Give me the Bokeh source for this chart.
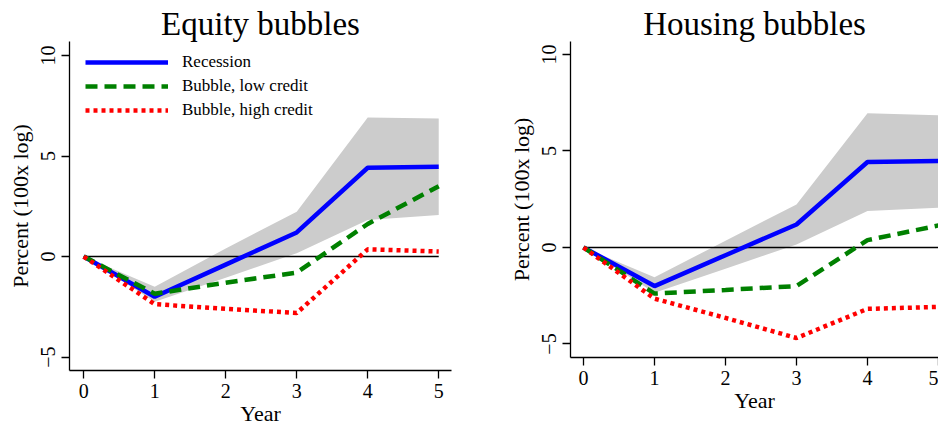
from bokeh.plotting import figure
from bokeh.models import Range1d, FixedTicker, Legend, LegendItem
from bokeh.layouts import row
from bokeh.embed import file_html
from bokeh.resources import INLINE

years = [0, 1, 2, 3, 4, 5]

# Equity bubbles
eq_recession = [0, -2.0, -0.4, 1.2, 4.42, 4.47]
eq_band_hi = [0, -1.5, 0.4, 2.23, 6.92, 6.87]
eq_band_lo = [0, -2.25, -1.05, 0.17, 1.82, 2.07]
eq_low_credit = [0, -1.85, -1.3, -0.8, 1.62, 3.5]
eq_high_credit = [0, -2.37, -2.6, -2.81, 0.36, 0.25]

# Housing bubbles
ho_recession = [0, -2.0, -0.4, 1.19, 4.43, 4.48]
ho_band_hi = [0, -1.54, 0.35, 2.23, 6.95, 6.85]
ho_band_lo = [0, -2.35, -1.1, 0.16, 1.89, 2.06]
ho_low_credit = [0, -2.39, -2.2, -2.0, 0.38, 1.14]
ho_high_credit = [0, -2.65, -3.65, -4.69, -3.18, -3.08]

y_ticks = [-5, 0, 5, 10]
x_ticks = [0, 1, 2, 3, 4, 5]

FONT = "Liberation Serif"


def make_panel(title, rec, hi, lo, low, high, xr, yr, fw, fh, mb, legend):
    p = figure(output_backend="svg", toolbar_location=None,
               frame_width=fw, frame_height=fh,
               min_border_left=mb[0], min_border_right=mb[1],
               min_border_top=mb[2], min_border_bottom=mb[3],
               x_range=Range1d(*xr), y_range=Range1d(*yr),
               title=title)
    p.title.text_font = FONT
    p.title.text_font_size = "33px"
    p.title.text_font_style = "normal"
    p.title.text_color = "black"
    p.title.align = "center"
    p.title.standoff = 0
    p.outline_line_color = None
    p.grid.visible = False
    p.background_fill_color = "white"
    p.border_fill_color = "white"

    p.varea(x=years, y1=lo, y2=hi, fill_color="#cccccc", fill_alpha=1.0)
    p.line(x=[0, 5], y=[0, 0], line_color="black", line_width=1.5)
    r1 = p.line(x=years, y=rec, line_color="#0000ff", line_width=4.5)
    r2 = p.line(x=years, y=low, line_color="#008000", line_width=4.5,
                line_dash="12 7")
    r3 = p.line(x=years, y=high, line_color="#ff0000", line_width=4.5,
                line_dash="4 4")

    for ax in (p.xaxis[0], p.yaxis[0]):
        ax.axis_line_color = "black"
        ax.axis_line_width = 1.3
        ax.major_tick_line_color = "black"
        ax.major_tick_line_width = 1.3
        ax.major_tick_out = 8
        ax.major_tick_in = 0
        ax.minor_tick_line_color = None
        ax.major_label_text_font = FONT
        ax.major_label_text_font_size = "20px"
        ax.major_label_text_color = "black"
        ax.axis_label_text_font = FONT
        ax.axis_label_text_font_size = "22px"
        ax.axis_label_text_font_style = "normal"
        ax.axis_label_text_color = "black"
    p.xaxis.ticker = FixedTicker(ticks=x_ticks)
    p.yaxis.ticker = FixedTicker(ticks=y_ticks)
    p.yaxis.major_label_orientation = "vertical"
    p.xaxis.axis_label = "Year"
    p.yaxis.axis_label = "Percent (100x log)"
    p.xaxis.major_label_standoff = 5
    p.yaxis.major_label_standoff = 6
    p.xaxis.axis_label_standoff = 0
    p.yaxis.axis_label_standoff = 6

    if legend:
        lg = Legend(items=[
            LegendItem(label="Recession", renderers=[r1]),
            LegendItem(label="Bubble, low credit", renderers=[r2]),
            LegendItem(label="Bubble, high credit", renderers=[r3]),
        ], location=(16, 250))
        lg.margin = 0
        lg.padding = 0
        lg.spacing = 4
        lg.glyph_width = 83
        lg.glyph_height = 20
        lg.label_height = 20
        lg.label_standoff = 14
        lg.label_text_font = FONT
        lg.label_text_font_size = "17px"
        lg.label_text_color = "black"
        lg.background_fill_alpha = 0
        lg.border_line_alpha = 0
        p.add_layout(lg, "center")
    return p


left = make_panel("Equity bubbles", eq_recession, eq_band_hi, eq_band_lo,
                  eq_low_credit, eq_high_credit,
                  (-0.2, 5.18), (-5.67, 10.7), 382, 329, (69, 19, 41, 44), True)
right = make_panel("Housing bubbles", ho_recession, ho_band_hi, ho_band_lo,
                   ho_low_credit, ho_high_credit,
                   (-0.183, 5.0), (-5.7, 10.67), 368, 316, (100, 0, 41, 57), False)

layout = row(left, right)
open("out.html", "w").write(file_html(layout, INLINE))
